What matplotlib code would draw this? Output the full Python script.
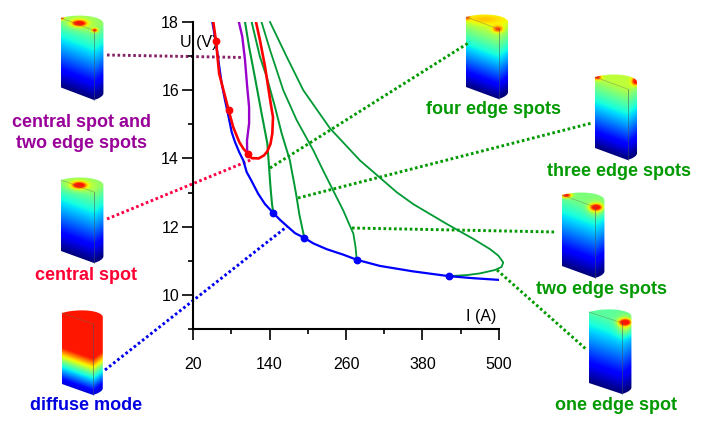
#!/usr/bin/env python

import numpy as np
import matplotlib
matplotlib.use("Agg")
import matplotlib.pyplot as plt
from matplotlib.patches import Polygon

plt.rcParams['font.family'] = ['Liberation Sans', 'DejaVu Sans']

# curves, I (A) and U (V)
diffuse_i = [50.3, 55.6, 61.3, 65, 70.2, 75.4, 80.7, 85.9, 92.6, 99, 104.2, 111, 122.4, 133, 146, 156.5, 166.7,
             180, 194.6, 208.7, 229.7, 255.7, 276.8, 313, 365, 421, 459, 500]
diffuse_u = [18.0, 17.45, 16.68, 16.2, 15.71, 15.26, 14.77, 14.48, 14.18, 13.94, 13.6, 13.37, 12.96, 12.66, 12.4, 12.2, 12.03,
             11.81, 11.67, 11.51, 11.34, 11.18, 11.03, 10.85, 10.69, 10.55, 10.49, 10.44]

central_i = [51.8, 56, 61, 76, 83, 92.6, 98.9, 106.7, 112, 123, 131.4, 136.6, 141.6, 144.4, 145.5, 141.9, 133, 125, 118.8]
central_u = [18.0, 17.45, 16.49, 15.41, 14.92, 14.48, 14.29, 14.12, 14.01, 14.0, 14.09, 14.21, 14.43, 14.73, 15.21, 15.61, 16.69, 17.47, 18.0]

mixed_i = [92, 97.3, 101.6, 105, 108, 108, 104.7, 105]
mixed_u = [18.0, 17.57, 16.88, 16.1, 15.51, 15.03, 14.53, 14.09]

four_i = [101.6, 108, 117, 126.7, 136.6, 139.7, 140.8, 142, 143.9, 146]
four_u = [18.0, 17.27, 16.39, 15.41, 14.44, 13.65, 13.35, 13.06, 12.67, 12.4]

three_i = [112, 125, 135.6, 148.6, 159, 172, 174.8, 178.4, 182.6, 186.7, 194.6]
three_u = [18.0, 16.98, 16.39, 15.51, 14.74, 13.94, 13.65, 13.3, 12.86, 12.37, 11.67]

two_i = [127.5, 140.8, 161.6, 182.7, 208.7, 224, 255.8, 266, 271.5, 275, 276.8]
two_u = [18.0, 17.18, 16.0, 15.12, 14.24, 13.65, 12.47, 12.03, 11.8, 11.4, 11.03]

one_i = [140.8, 167, 193, 235, 282, 300, 339.5, 365.6, 418, 459.8, 486, 499, 506.7, 504, 493.7, 470, 449.3, 421]
one_u = [18.0, 16.98, 16.0, 14.88, 13.94, 13.65, 13.01, 12.66, 12.08, 11.64, 11.34, 11.15, 10.95, 10.82, 10.73, 10.63, 10.58, 10.55]

# bifurcation points
red_pts_i = [56, 76, 106.7]
red_pts_u = [17.45, 15.41, 14.12]
blue_pts_i = [146, 194.6, 276.8, 421]
blue_pts_u = [12.4, 11.67, 11.03, 10.55]

x_major = [20, 140, 260, 380, 500]
x_minor = [80, 200, 320, 440]
y_major = [10, 12, 14, 16, 18]
y_minor = [9, 11, 13, 15, 17]

W, H = 703, 424
fig = plt.figure(figsize=(W / 100, H / 100), dpi=100)

# overlay in pixels for the sketches and labels
ov = fig.add_axes([0, 0, 1, 1])
ov.set_xlim(0, W)
ov.set_ylim(H, 0)
ov.axis('off')


def cylinder(lx, ly, fx, fy, height, top, spots, table=None):
    # half cylinder with a jet coloured surface
    cx, cy = (lx + fx) / 2, (ly + fy) / 2
    ax_, ay_ = (fx - lx) / 2, (fy - ly) / 2
    bx, by = 20, -6
    th_max = np.arctan2(bx, ax_)
    th = np.linspace(np.pi, th_max, 40)
    arc_x = cx + ax_ * np.cos(th) + bx * np.sin(th)
    arc_y = cy + ay_ * np.cos(th) + by * np.sin(th)
    th2 = np.linspace(th_max, 0, 20)
    low_x = cx + ax_ * np.cos(th2) + bx * np.sin(th2)
    low_y = cy + ay_ * np.cos(th2) + by * np.sin(th2) + height
    px = np.r_[arc_x, low_x, lx]
    py = np.r_[arc_y, low_y, ly + height]

    xs = np.arange(lx - 2, fx + 14, 0.5)
    ys = np.arange(ly - 6, fy + height + 4, 0.5)
    xx, yy = np.meshgrid(xs, ys)
    slope = (fy - ly) / (fx - lx)
    edge = ly + (xx - lx) * slope
    right = xx > fx
    edge[right] = fy - (xx[right] - fx) * 0.75
    t = np.clip((yy - edge) / height, 0, 1)
    if table is None:
        v = top * (1 - t)
    else:
        v = np.interp(t, table[0], table[1])
    for sx, sy, wx, wy, amp in spots:
        v = v + amp * np.exp(-((xx - sx) / wx) ** 2 - ((yy - sy) / wy) ** 2)
    v = np.minimum(v, 0.885)
    im = ov.imshow(v, cmap='jet', vmin=0, vmax=1, interpolation='bilinear',
                   extent=(xs[0], xs[-1], ys[-1], ys[0]), aspect='auto')
    im.set_clip_path(Polygon(np.c_[px, py], transform=ov.transData))
    ov.plot([lx, fx], [ly, fy], color='#607060', lw=0.5, alpha=0.5)
    ov.plot([fx, fx], [fy, fy + height], color='#405060', lw=0.6, alpha=0.6)


diffuse_table = ([0, 0.5, 0.62, 0.72, 0.82, 0.95, 1], [0.885, 0.885, 0.65, 0.45, 0.3, 0.12, 0.08])

cylinder(61, 18, 94, 30.5, 69.5, 0.52,
         [(79, 24, 6, 2.5, 0.5), (79, 24, 13, 6, 0.12), (61.5, 18.5, 2.5, 2, 0.4), (94.5, 31, 3, 2, 0.4)])
cylinder(61, 180, 94, 192, 71, 0.52,
         [(79, 186, 6, 2.8, 0.5), (79, 186, 14, 6, 0.12)])
cylinder(62, 313, 93, 324, 71, 0, [], diffuse_table)
cylinder(589, 312, 622, 323, 71, 0.46,
         [(625, 323, 6, 3, 0.5), (625, 326, 8, 9, 0.2)])
cylinder(466, 17, 498.5, 29, 70, 0.62,
         [(466.5, 18, 3, 3, 0.2), (498, 30, 5, 3, 0.25), (485, 20, 20, 5, 0.08)])
cylinder(595, 77, 627.5, 89, 71, 0.58,
         [(597, 78, 4, 2.5, 0.35), (636, 82, 4, 4, 0.4)])
cylinder(562, 195, 595, 207, 71, 0.5,
         [(566, 196, 5, 2.5, 0.45), (596, 208, 6, 3, 0.45), (596, 210, 8, 7, 0.15)])

# leader lines
dots = (0, (0.9, 0.9))
ov.plot([107, 243], [55, 57.5], color='#882266', lw=2.1, ls=dots)
ov.plot([107, 253], [219, 159], color='#ff0044', lw=2.1, ls=dots)
ov.plot([105, 287], [370, 226.5], color='#0000f0', lw=2.1, ls=dots)
ov.plot([270, 470], [168, 42], color='#009900', lw=2.1, ls=dots)
ov.plot([298, 592], [198, 123], color='#009900', lw=2.1, ls=dots)
ov.plot([352, 556], [228, 232], color='#009900', lw=2.1, ls=dots)
ov.plot([497, 587], [270, 350], color='#009900', lw=2.1, ls=dots)
ov.set_xlim(0, W)
ov.set_ylim(H, 0)

labels = [
    (82, 133, "central spot and\ntwo edge spots", '#990099'),
    (86, 275.5, "central spot", '#ff0033'),
    (86, 406, "diffuse mode", '#0000e0'),
    (493, 110, "four edge spots", '#009900'),
    (619, 172, "three edge spots", '#009900'),
    (601, 290, "two edge spots", '#009900'),
    (616, 406, "one edge spot", '#009900'),
]
for lx, ly, s, c in labels:
    ov.text(lx, ly, s, color=c, fontsize=13, fontweight='bold',
            ha='center', va='center', linespacing=1.32)

# the I-U plot
ax = fig.add_axes([193 / W, 1 - 329 / H, 306 / W, 307 / H])
ax.patch.set_alpha(0)
ax.set_xlim(20, 500)
ax.set_ylim(9, 18)

ax.plot(one_i, one_u, color='#009933', lw=1.3, clip_on=False)
ax.plot(two_i, two_u, color='#009933', lw=1.3)
ax.plot(three_i, three_u, color='#009933', lw=1.4)
ax.plot(four_i, four_u, color='#009933', lw=1.5)
ax.plot(mixed_i, mixed_u, color='#9900cc', lw=1.7)
ax.plot(diffuse_i, diffuse_u, color='#0000ff', lw=1.6)
ax.plot(central_i, central_u, color='#ff0000', lw=1.9)
ax.plot(red_pts_i, red_pts_u, 'o', color='#ff0000', ms=4.6, zorder=5)
ax.plot(blue_pts_i, blue_pts_u, 'o', color='#0000ff', ms=4.6, zorder=5)

ax.spines['top'].set_visible(False)
ax.spines['right'].set_visible(False)
ax.spines['left'].set_linewidth(1.5)
ax.spines['bottom'].set_linewidth(1.5)
ax.set_xticks(x_major)
ax.set_xticks(x_minor, minor=True)
ax.set_yticks(y_major)
ax.set_yticks(y_minor, minor=True)
ax.tick_params(which='major', length=8, width=1.2, labelsize=11.5, colors='black')
ax.tick_params(which='minor', length=3.4, width=1.2)
ax.tick_params(axis='x', which='major', pad=12.5)
ax.tick_params(axis='y', which='major', pad=2)

ov.text(180, 42, "U (V)", fontsize=11.5, ha='left', va='center')
ov.text(466, 316, "I (A)", fontsize=11.5, ha='left', va='center')

fig.savefig('out.png', dpi=100)
